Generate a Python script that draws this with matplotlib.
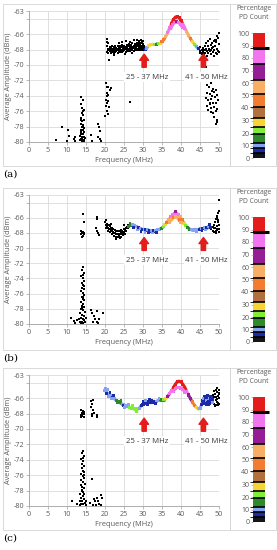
import matplotlib
matplotlib.use("Agg")
import matplotlib.pyplot as plt
import numpy as np
from matplotlib.colors import ListedColormap, BoundaryNorm
from matplotlib.collections import LineCollection
from matplotlib.cm import ScalarMappable
from matplotlib.patches import Rectangle

plt.rcParams['font.family'] = ['Open Sans', 'DejaVu Sans']

# PD count legend (percentage bands)
pd_bounds = [0, 4, 8, 12, 19, 24.5, 32, 41, 51, 62.5, 75, 88, 100]
pd_colors = ["#151515", "#1a2aa8", "#86a4ee", "#2c8a2a", "#80ee36", "#f6d434",
             "#b2703e", "#f47c2e", "#f8ae64", "#951c95", "#f274ee", "#e41c1c"]
pd_ticks = [0, 10, 20, 30, 40, 50, 60, 70, 80, 90, 100]
pd_marker = 88

freq_ticks = [0, 5, 10, 15, 20, 25, 30, 35, 40, 45, 50]
amp_ticks = [-80, -78, -76, -74, -72, -70, -68, -66, -64, -63]
amp_labels = ["-80", "-78", "-76", "-74", "-72", "-70", "-68", "-66", "", "-63"]

# ---------------- panel (a) ----------------
# black points (freq MHz, amplitude dBm)
a_band = [
    (20.6, -67.6), (20.9, -67.9), (21.2, -67.7), (21.5, -67.8), (21.8, -67.6), (22.1, -67.9),
    (22.4, -67.7), (22.7, -67.6), (23.0, -67.8), (23.3, -67.6), (23.6, -67.7), (23.9, -67.5),
    (24.2, -67.7), (24.5, -67.4), (24.8, -67.6), (25.1, -67.5), (25.4, -67.7), (25.7, -67.4),
    (26.0, -67.6), (26.3, -67.3), (26.6, -67.5), (26.9, -67.4), (27.2, -67.2), (27.5, -67.5),
    (27.8, -67.3), (28.1, -67.4), (28.4, -67.1), (28.7, -67.4), (29.0, -67.2), (29.3, -67.4),
    (29.6, -67.1), (29.9, -67.3), (30.2, -67.5),
    (20.75, -68.0), (21.05, -68.1), (21.35, -67.9), (21.65, -68.1), (21.95, -68.0), (22.25, -67.9),
    (22.55, -68.1), (22.85, -67.9), (23.15, -68.0), (23.45, -67.9), (23.75, -68.1), (24.05, -67.9),
    (24.35, -68.0), (24.65, -67.8), (24.95, -68.0), (25.25, -67.8), (25.55, -67.9), (25.85, -67.7),
    (26.15, -67.9), (26.45, -67.8), (26.75, -67.7), (27.05, -67.9), (27.35, -67.7), (27.65, -67.8),
    (27.95, -67.6), (28.25, -67.8), (28.55, -67.6), (28.85, -67.7), (29.15, -67.6), (29.45, -67.8),
    (29.75, -67.6), (30.05, -67.8), (30.35, -67.8),
    (20.6, -68.3), (20.9, -68.4), (21.2, -68.2), (21.5, -68.4), (21.8, -68.3), (22.1, -68.2),
    (22.4, -68.5), (22.7, -68.3), (23.0, -68.2), (23.3, -68.4), (23.6, -68.2), (23.9, -68.3),
    (24.2, -68.1), (24.5, -68.3), (24.8, -68.2), (25.1, -68.1), (25.4, -68.3), (25.7, -68.1),
    (26.0, -68.2), (26.3, -68.0), (26.6, -68.2), (26.9, -68.1), (27.2, -68.0), (27.5, -68.2),
    (27.8, -67.9), (28.1, -68.1), (28.4, -68.0), (28.7, -67.9), (29.0, -68.1), (29.3, -67.9),
    (29.6, -68.0), (29.9, -68.1), (30.2, -68.0),
    (20.4, -66.6), (20.5, -67.0), (20.7, -67.2), (21.0, -69.3), (22.3, -68.7), (23.8, -67.2),
    (24.6, -67.0), (25.3, -68.6), (25.6, -66.9), (26.5, -67.0), (27.0, -68.5), (27.6, -66.7),
    (28.3, -66.8), (28.9, -66.9), (29.4, -66.7), (29.8, -67.0), (30.0, -66.9),
]
a_drop = [
    (20.3, -72.3), (20.5, -72.8), (20.4, -73.6), (20.6, -74.0), (20.2, -74.5), (20.5, -74.9),
    (20.3, -75.3), (20.6, -76.0), (20.1, -76.6), (20.8, -76.4), (20.9, -72.9), (21.2, -73.2),
    (21.6, -73.0), (20.7, -73.9), (20.9, -74.7), (21.0, -75.4), (26.5, -74.8),
]
a_left = [
    (13.8, -74.2), (14.3, -74.6), (13.6, -75.1), (14.0, -75.6), (14.4, -75.9), (13.9, -76.2),
    (14.2, -76.5), (13.7, -76.9), (14.5, -77.1), (14.0, -77.3), (13.6, -77.6), (14.3, -77.8),
    (13.9, -78.0), (14.6, -78.2), (13.7, -78.4), (14.1, -78.5), (14.4, -78.7), (13.8, -78.9),
    (14.2, -79.0), (13.5, -79.2), (14.0, -79.3), (14.5, -79.4), (13.7, -79.6), (14.2, -79.7),
    (13.9, -79.9), (14.4, -79.9), (13.4, -79.7), (14.7, -79.5), (14.1, -78.1), (13.8, -77.2),
    (14.3, -76.0), (14.0, -79.6), (13.6, -78.7), (14.5, -79.8),
    (7.2, -79.8), (8.6, -78.1), (10.0, -79.9), (10.3, -78.5), (10.5, -79.2), (12.0, -79.4),
    (12.2, -79.9), (11.8, -79.6), (16.4, -79.1), (16.6, -79.9), (18.2, -77.6), (18.4, -78.1),
    (18.1, -79.3), (18.6, -79.6), (19.0, -79.9), (18.8, -78.6),
]
a_right = [
    (44.6, -67.9), (44.9, -68.2), (45.1, -67.7), (45.3, -68.4), (45.5, -68.0), (45.7, -68.3),
    (45.9, -67.8), (46.1, -68.1), (46.2, -67.5), (46.4, -68.4), (46.6, -67.9), (46.8, -68.2),
    (47.0, -67.6), (47.1, -68.5), (47.3, -67.9), (47.5, -66.6), (47.6, -68.2), (47.8, -67.4),
    (48.0, -68.0), (48.1, -67.1), (48.3, -68.3), (48.5, -67.7), (48.6, -66.9), (48.8, -68.1),
    (49.0, -67.5), (49.1, -68.4), (49.3, -66.8), (49.4, -67.9), (49.6, -66.2), (49.7, -68.2),
    (49.9, -67.3), (50.0, -65.9), (49.8, -66.5), (49.2, -67.0), (48.9, -66.7), (47.2, -66.9),
    (46.5, -67.2), (46.0, -68.6), (46.9, -68.8), (47.9, -68.6), (48.7, -68.9), (49.5, -68.6),
    (45.4, -68.6), (46.3, -68.0), (47.4, -68.1), (48.2, -67.8), (49.9, -68.3), (46.7, -70.3),
    (45.8, -68.5), (45.0, -68.4),
    (46.8, -72.6), (47.4, -72.9), (47.9, -72.4), (48.3, -73.1), (46.9, -73.6), (47.6, -73.8),
    (48.1, -74.0), (48.7, -73.5), (49.2, -73.3), (46.6, -74.3), (47.2, -74.6), (47.8, -74.4),
    (48.4, -74.9), (49.0, -74.2), (49.6, -73.9), (46.9, -75.3), (47.5, -75.1), (48.0, -75.6),
    (48.6, -75.4), (49.3, -75.0), (47.2, -75.9), (47.9, -76.1), (48.5, -76.3), (49.1, -76.0),
    (49.6, -75.7), (48.8, -76.8), (49.4, -77.1), (49.6, -77.4), (49.2, -77.6), (47.7, -74.9),
    (48.2, -73.4), (49.8, -74.6),
]
# coloured trace (freq, amplitude, PD count %)
a_curve = [
    (30.6, -68.0, 6), (31.0, -67.8, 10), (31.5, -67.5, 28), (32.0, -67.4, 28), (32.5, -67.3, 28),
    (33.0, -67.3, 22), (33.5, -67.3, 16), (34.0, -67.2, 22), (34.5, -67.2, 28), (35.0, -67.0, 45),
    (35.5, -66.7, 45), (36.0, -66.3, 57), (36.5, -65.8, 80), (37.0, -65.2, 80), (37.5, -64.6, 95),
    (38.0, -64.1, 95), (38.5, -63.8, 95), (39.0, -63.7, 95), (39.5, -63.9, 95), (40.0, -64.2, 95),
    (40.5, -64.7, 80), (41.0, -65.2, 80), (41.5, -65.7, 57), (42.0, -66.2, 57), (42.5, -66.6, 45),
    (43.0, -67.0, 28), (43.5, -67.3, 22), (44.0, -67.6, 10), (44.5, -67.9, 6),
]
a_strand = [
    (37.3, -65.3, 80), (37.8, -64.8, 80), (38.3, -64.5, 80), (38.8, -64.4, 70), (39.3, -64.5, 80),
    (39.8, -64.7, 80), (40.3, -65.1, 80),
]
a_dots = []

# ---------------- panel (b) ----------------
b_band = [
    (20.1, -66.6), (20.4, -66.8), (20.7, -66.9), (21.0, -67.0), (21.3, -67.1), (21.6, -67.3),
    (21.9, -67.4), (22.2, -67.5), (22.5, -67.6), (22.8, -67.7), (23.1, -67.7), (23.4, -67.8),
    (23.7, -67.7), (24.0, -67.8), (24.3, -67.6), (24.6, -67.7), (24.9, -67.5), (25.2, -67.6),
    (25.5, -67.3), (25.8, -67.2),
    (20.25, -67.0), (20.55, -67.2), (20.85, -67.3), (21.15, -67.5), (21.45, -67.6), (21.75, -67.7),
    (22.05, -67.9), (22.35, -68.0), (22.65, -68.0), (22.95, -68.1), (23.25, -68.2), (23.55, -68.1),
    (23.85, -68.2), (24.15, -68.0), (24.45, -68.1), (24.75, -67.9), (25.05, -68.0), (25.35, -67.8),
    (25.65, -67.7), (25.95, -67.4),
    (20.3, -67.4), (20.8, -67.7), (21.3, -67.9), (21.8, -68.2), (22.3, -68.4), (22.8, -68.5),
    (23.3, -68.6), (23.8, -68.4), (24.3, -68.5), (24.8, -68.3), (25.3, -68.2),
    (19.9, -66.5), (20.2, -66.3), (21.5, -66.8), (23.0, -68.8), (24.0, -68.7), (25.0, -67.0),
    (26.1, -67.0),
]
b_left = [
    (14.2, -65.5), (14.5, -66.5), (13.8, -67.7), (14.0, -68.0), (14.3, -67.9), (13.6, -68.2),
    (14.1, -68.4), (14.4, -68.2), (13.9, -68.5), (14.6, -68.0),
    (17.8, -66.2), (18.0, -65.9), (17.6, -67.4), (18.1, -68.0), (18.4, -68.3), (17.9, -67.8),
    (14.3, -72.5), (14.0, -72.9), (14.4, -73.3), (13.8, -73.7), (14.2, -74.0), (14.5, -74.3),
    (13.9, -74.6), (14.3, -74.9), (14.0, -75.2), (14.6, -75.4), (13.7, -75.7), (14.2, -75.9),
    (14.4, -76.2), (13.9, -76.4), (14.1, -76.7), (14.6, -76.9), (13.6, -77.1), (14.3, -77.3),
    (14.0, -77.6), (14.5, -77.8), (13.8, -78.0), (14.2, -78.2), (14.7, -78.4), (13.5, -78.6),
    (14.0, -78.8), (14.4, -79.0), (13.7, -79.2), (14.1, -79.4), (14.6, -79.5), (13.4, -79.7),
    (13.9, -79.8), (14.3, -79.9), (14.8, -79.7), (13.2, -79.4), (15.0, -79.2), (14.1, -73.6),
    (14.5, -75.0), (13.9, -77.9), (14.2, -76.5), (13.6, -79.9),
    (11.0, -79.2), (11.8, -79.6), (12.2, -79.9), (12.6, -79.5), (16.4, -78.2), (16.7, -78.6),
    (17.0, -79.0), (17.4, -79.4), (17.8, -79.7), (18.2, -79.9), (18.5, -79.3), (18.0, -78.3),
    (19.4, -78.6), (16.9, -79.8),
]
b_right = [
    (48.0, -67.5), (48.3, -67.2), (48.5, -67.8), (48.7, -66.9), (48.9, -67.4), (49.0, -66.6),
    (49.2, -67.7), (49.3, -66.2), (49.4, -67.1), (49.5, -65.8), (49.6, -67.5), (49.7, -66.5),
    (49.8, -65.4), (49.9, -67.9), (50.0, -66.9), (49.9, -65.1), (50.0, -63.6), (49.6, -66.0),
    (48.8, -67.9), (49.1, -68.0), (49.8, -66.3), (50.0, -67.5), (49.4, -67.6), (48.6, -67.3),
]
b_curve = [
    (26.3, -67.1, 16), (26.8, -67.0, 16), (27.3, -66.9, 10), (27.8, -67.0, 10), (28.3, -67.2, 10),
    (28.8, -67.3, 6), (29.3, -67.4, 10), (29.8, -67.5, 6), (30.3, -67.5, 10), (30.8, -67.6, 6),
    (31.3, -67.6, 10), (31.8, -67.7, 6), (32.3, -67.7, 10), (32.8, -67.7, 6), (33.3, -67.7, 10),
    (33.8, -67.6, 10), (34.3, -67.5, 10), (34.8, -67.4, 16), (35.3, -67.2, 22), (35.8, -66.9, 28),
    (36.3, -66.6, 45), (36.8, -66.2, 57), (37.3, -65.9, 80), (37.8, -65.6, 80), (38.3, -65.4, 80),
    (38.8, -65.4, 80), (39.3, -65.6, 80), (39.8, -65.9, 57), (40.3, -66.3, 45), (40.8, -66.7, 28),
    (41.3, -67.0, 22), (41.8, -67.3, 16), (42.3, -67.5, 16), (42.8, -67.6, 10), (43.3, -67.6, 10),
    (43.8, -67.5, 10), (44.3, -67.5, 10), (44.8, -67.5, 6), (45.3, -67.4, 10), (45.8, -67.4, 6),
    (46.3, -67.3, 10), (46.8, -67.3, 6), (47.3, -67.2, 10), (47.8, -67.3, 6),
]
b_strand = [
    (37.0, -66.6, 57), (37.5, -66.2, 57), (38.0, -66.0, 45), (38.5, -65.9, 57), (39.0, -66.0, 57),
    (39.5, -66.3, 45), (40.0, -66.6, 57),
]
b_dots = [
    (27.5, -67.3, 6), (28.5, -67.6, 10), (29.5, -67.8, 6), (30.5, -67.9, 10), (31.5, -68.0, 6),
    (32.5, -68.0, 10), (33.5, -67.9, 6), (38.6, -65.2, 70), (26.6, -66.8, 16), (44.0, -67.8, 10),
    (45.5, -67.7, 6), (46.5, -67.6, 10), (47.5, -66.9, 6),
]

# ---------------- panel (c) ----------------
c_left = [
    (13.6, -67.6), (13.9, -67.9), (14.2, -67.7), (14.5, -68.0), (13.7, -68.2), (14.0, -68.3),
    (14.3, -68.1), (14.6, -67.8), (13.8, -68.4), (14.4, -68.4),
    (16.3, -66.4), (16.6, -66.7), (16.9, -66.3), (16.4, -67.2), (16.8, -67.5), (16.5, -68.0),
    (17.0, -67.9), (16.7, -68.3), (17.8, -68.2), (18.0, -68.4),
    (14.2, -72.8), (14.0, -73.1), (14.4, -73.5), (13.8, -73.9), (14.3, -74.2), (14.0, -74.5),
    (14.5, -74.8), (13.9, -75.1), (14.2, -75.4), (14.6, -75.6), (13.7, -75.9), (14.1, -76.1),
    (14.4, -76.4), (13.8, -76.6), (14.2, -76.9), (14.7, -77.1), (13.6, -77.3), (14.0, -77.5),
    (14.4, -77.7), (13.9, -78.0), (14.3, -78.2), (13.5, -78.4), (14.6, -78.5), (14.1, -78.7),
    (13.7, -78.9), (14.4, -79.1), (13.4, -79.3), (14.0, -79.4), (14.7, -79.6), (13.6, -79.7),
    (14.2, -79.8), (13.3, -79.9), (14.9, -79.9), (15.1, -79.4), (14.5, -76.0), (13.9, -77.9),
    (14.3, -73.8),
    (11.3, -79.3), (12.5, -79.8), (16.5, -76.5), (16.0, -79.6), (16.8, -79.9), (17.1, -79.1),
    (17.4, -79.4), (17.8, -79.0), (18.2, -79.3), (18.5, -79.7), (17.6, -79.9), (19.0, -78.6),
    (19.2, -79.0), (18.9, -79.9),
]
c_right = [
    (48.2, -66.0), (48.4, -65.6), (48.5, -66.4), (48.7, -65.8), (48.8, -66.7), (49.0, -65.5),
    (49.1, -66.2), (49.2, -66.9), (49.3, -65.9), (49.4, -66.5), (49.5, -65.2), (49.6, -66.1),
    (49.7, -65.7), (49.8, -66.6), (49.9, -65.4), (50.0, -66.0), (49.5, -64.7), (50.0, -64.9),
    (48.6, -65.1), (49.9, -66.8), (49.1, -64.9), (48.9, -67.0), (50.0, -65.5), (49.7, -66.9),
]
c_curve = [
    (20.0, -65.0, 10), (20.5, -65.3, 10), (21.0, -65.5, 10), (21.5, -65.7, 10), (22.0, -65.9, 6),
    (22.5, -66.1, 10), (23.0, -66.3, 16), (23.5, -66.5, 16), (24.0, -66.6, 16), (24.5, -66.8, 10),
    (25.0, -66.9, 6), (25.5, -67.0, 10), (26.0, -67.1, 10), (26.5, -67.2, 22), (27.0, -67.3, 22),
    (27.5, -67.4, 22), (28.0, -67.4, 22), (28.5, -67.4, 22), (29.0, -67.3, 10), (29.5, -67.0, 6),
    (30.0, -66.8, 6), (30.5, -66.6, 6), (31.0, -66.6, 6), (31.5, -66.5, 6), (32.0, -66.6, 6),
    (32.5, -66.5, 6), (33.0, -66.4, 6), (33.5, -66.4, 10), (34.0, -66.3, 10), (34.5, -66.2, 16),
    (35.0, -66.2, 16), (35.5, -66.2, 22), (36.0, -66.1, 28), (36.5, -65.8, 70), (37.0, -65.4, 80),
    (37.5, -65.0, 80), (38.0, -64.6, 95), (38.5, -64.2, 95), (39.0, -63.9, 95), (39.5, -63.8, 95),
    (40.0, -63.9, 95), (40.5, -64.2, 95), (41.0, -64.6, 95), (41.5, -65.1, 80), (42.0, -65.6, 70),
    (42.5, -66.1, 70), (43.0, -66.5, 45), (43.5, -66.9, 45), (44.0, -67.2, 28), (44.5, -67.4, 22),
    (45.0, -67.3, 10), (45.5, -66.8, 6), (46.0, -66.4, 6),
]
c_strand = [
    (38.0, -65.1, 80), (38.5, -64.8, 80), (39.0, -64.6, 80), (39.5, -64.6, 80), (40.0, -64.7, 80),
    (40.5, -64.9, 80), (41.0, -65.2, 80),
]
c_dots = [
    (20.1, -64.7, 10), (20.3, -65.4, 6), (20.6, -64.9, 10), (20.9, -65.8, 10), (21.3, -65.3, 6),
    (21.8, -66.0, 10), (22.3, -65.7, 6), (23.2, -66.6, 16), (24.2, -66.3, 16), (25.2, -67.2, 10),
    (26.2, -66.8, 10), (27.2, -67.0, 22), (28.2, -67.7, 22), (30.2, -66.4, 6), (31.2, -66.9, 6),
    (32.2, -66.3, 6), (33.2, -66.7, 6), (34.2, -66.0, 10), (30.7, -66.3, 10), (31.7, -66.2, 6),
    (45.6, -66.3, 6), (45.9, -66.7, 6), (46.1, -66.1, 10), (46.3, -66.5, 6), (46.5, -66.0, 6),
    (46.6, -66.8, 6), (46.8, -66.3, 10), (47.0, -66.6, 6), (47.1, -65.9, 6), (47.3, -66.4, 6),
    (47.5, -66.1, 10), (47.6, -66.7, 6), (47.8, -66.2, 6), (48.0, -66.5, 6), (48.1, -65.9, 6),
    (48.3, -66.6, 10), (46.2, -65.8, 6), (47.2, -66.9, 6), (45.8, -66.0, 10), (46.9, -65.7, 6),
    (47.7, -65.8, 6), (48.4, -66.2, 6),
]

panel_tags = ["(a)", "(b)", "(c)"]
band_labels = ["25 - 37 MHz", "41 - 50 MHz"]
arrow_freqs = [30.3, 45.9]
label_freqs = [31.0, 46.7]

W, H = 277, 550
cmap = ListedColormap(pd_colors)
norm = BoundaryNorm(pd_bounds, cmap.N)

fig = plt.figure(figsize=(W / 100, H / 100), dpi=100)


def fx(px):
    return px / W


def fy(px):
    return 1 - px / H


def draw_panel(top, h, tag, black, curve, strand, dots):
    # light frames round plot and legend
    fig.add_artist(Rectangle((fx(3), fy(top + 155)), fx(227), 162 / H, transform=fig.transFigure,
                             fill=False, ec="#d4d4d4", lw=0.6))
    fig.add_artist(Rectangle((fx(230), fy(top + 155)), fx(46), 162 / H, transform=fig.transFigure,
                             fill=False, ec="#d4d4d4", lw=0.6))

    ax = fig.add_axes([fx(29), fy(top + h), fx(190), h / H])
    ax.set_xlim(0, 50)
    ax.set_ylim(-80, -63)
    ax.set_xticks(freq_ticks)
    ax.set_yticks(amp_ticks)
    ax.set_yticklabels(amp_labels)
    ax.grid(True, color="#dadada", lw=0.6)
    ax.set_axisbelow(True)
    for s in ["top", "right"]:
        ax.spines[s].set_visible(False)
    for s in ["left", "bottom"]:
        ax.spines[s].set_color("#a0a0a0")
        ax.spines[s].set_linewidth(0.6)
    ax.tick_params(length=2, width=0.5, color="#a0a0a0", labelcolor="#5a5a5a",
                   labelsize=5.2, pad=1.5)
    ax.set_xlabel("Frequency (MHz)", fontsize=5.3, color="#5a5a5a", labelpad=2)
    ax.set_ylabel("Average Amplitude (dBm)", fontsize=5.3, color="#5a5a5a", labelpad=1)

    bf = [p[0] for p in black]
    bd = [p[1] for p in black]
    ax.scatter(bf, bd, s=3.4, c="black", marker="s", linewidths=0, clip_on=False, zorder=4)

    for trace in (curve, strand):
        f = np.array([p[0] for p in trace])
        d = np.array([p[1] for p in trace])
        pc = np.array([p[2] for p in trace])
        pts = np.column_stack([f, d])
        segs = np.stack([pts[:-1], pts[1:]], axis=1)
        lc = LineCollection(segs, colors=cmap(norm(pc[:-1])), linewidths=2.1,
                            capstyle="round", zorder=5)
        ax.add_collection(lc)
        ax.scatter(f, d, s=5, c=pc, cmap=cmap, norm=norm, marker="s", linewidths=0, zorder=5)
    if dots:
        ax.scatter([p[0] for p in dots], [p[1] for p in dots], s=4, c=[p[2] for p in dots],
                   cmap=cmap, norm=norm, marker="s", linewidths=0, clip_on=False, zorder=5)

    for xa, xl, lab in zip(arrow_freqs, label_freqs, band_labels):
        ax.annotate("", xy=(xa, -68.6), xytext=(xa, -70.3),
                    arrowprops=dict(arrowstyle="simple,head_length=0.55,head_width=0.8,tail_width=0.38",
                                    color="#e41c1c", mutation_scale=8, shrinkA=0, shrinkB=0),
                    zorder=6)
        ax.text(xl, -71.6, lab, ha="center", va="center", fontsize=5.6, color="#3a3a3a",
                bbox=dict(fc="white", ec="none", pad=1.2), clip_on=False, zorder=6)

    # PD count legend
    cax = fig.add_axes([fx(253), fy(top + 22 + 125), fx(12), 125 / H])
    cb = fig.colorbar(ScalarMappable(norm=norm, cmap=cmap), cax=cax, spacing="proportional",
                      drawedges=True, ticks=pd_ticks)
    cb.outline.set_visible(False)
    cb.dividers.set_color("black")
    cb.dividers.set_linewidth(1.2)
    cax.yaxis.set_ticks_position("left")
    cax.yaxis.set_label_position("left")
    cax.tick_params(length=1.5, width=0.5, color="#a0a0a0", labelcolor="#5a5a5a",
                    labelsize=5, pad=1)
    cax.plot([0, 1.35], [pd_marker, pd_marker], color="black", lw=2.2,
             transform=cax.get_yaxis_transform(), clip_on=False, solid_capstyle="butt")
    fig.text(fx(254), fy(top + 2), "Percentage\nPD Count", ha="center", va="center",
             fontsize=4.9, color="#5a5a5a", linespacing=1.5)

    fig.text(fx(3), fy(top + 163), tag, ha="left", va="center", fontsize=7.5,
             family=["DejaVu Serif"], color="black")


draw_panel(11, 131, panel_tags[0], a_band + a_drop + a_left + a_right, a_curve, a_strand, a_dots)
draw_panel(195, 129, panel_tags[1], b_band + b_left + b_right, b_curve, b_strand, b_dots)
draw_panel(375, 131, panel_tags[2], c_left + c_right, c_curve, c_strand, c_dots)

fig.savefig("out.png", dpi=100)
